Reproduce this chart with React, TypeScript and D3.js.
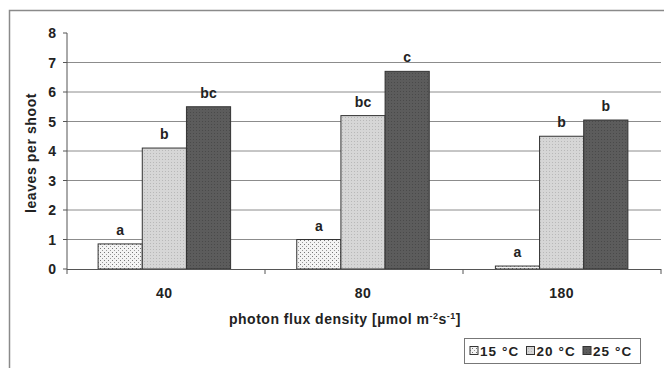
import React from "react";
import * as d3 from "d3";

const categories = ["40", "80", "180"];
const series = ["15 °C", "20 °C", "25 °C"];
const values15 = [0.85, 1.0, 0.1];
const values20 = [4.1, 5.2, 4.5];
const values25 = [5.5, 6.7, 5.05];
const letters15 = ["a", "a", "a"];
const letters20 = ["b", "bc", "b"];
const letters25 = ["bc", "c", "b"];
const yTicks = [0, 1, 2, 3, 4, 5, 6, 7, 8];

const W = 664, H = 368;
const FONT = "'Liberation Sans', Arial, sans-serif";

export default function App() {
  const left = 67, right = 661, top = 33, bottom = 269;
  const y = d3.scaleLinear().domain([0, 8]).range([bottom, top]);
  const x = d3.scaleBand<string>().domain(categories).range([65, right]).paddingInner(0.333).paddingOuter(0.1667);
  const xAxis = d3.scaleBand<string>().domain(categories).range([left, right]);
  const xs = d3.scaleBand<string>().domain(series).range([0, x.bandwidth()]);
  const vals = [values15, values20, values25];
  const lets = [letters15, letters20, letters25];
  const fills = ["url(#p15)", "url(#p20)", "url(#p25)"];

  return (
    <svg width={W} height={H} style={{ position: "absolute", left: 0, top: 0, background: "#fff" }}>
      <defs>
        <pattern id="p15" width="4" height="4" patternUnits="userSpaceOnUse">
          <rect width="4" height="4" fill="#f4f4f4" />
          <rect x="0" y="0" width="1" height="1" fill="#777" />
          <rect x="2" y="2" width="1" height="1" fill="#999" />
        </pattern>
        <pattern id="p20" width="3" height="3" patternUnits="userSpaceOnUse">
          <rect width="3" height="3" fill="#d6d6d6" />
          <rect x="0" y="0" width="1" height="1" fill="#b8b8b8" />
        </pattern>
        <pattern id="p25" width="3" height="3" patternUnits="userSpaceOnUse">
          <rect width="3" height="3" fill="#5c5c5c" />
          <rect x="1" y="1" width="1" height="1" fill="#4a4a4a" />
        </pattern>
      </defs>
      {/* outer frame */}
      <rect x={9.5} y={10.5} width={660} height={370} fill="none" stroke="#8a8a8a" strokeWidth={1.5} />

      {/* gridlines */}
      {yTicks.filter(t => t > 0 && t < 8).map(t => (
        <line key={t} x1={left} x2={right} y1={y(t)} y2={y(t)} stroke="#8c8c8c" strokeWidth={1} />
      ))}
      {/* y axis */}
      <line x1={left} x2={left} y1={top} y2={bottom} stroke="#555" strokeWidth={1} />
      {yTicks.map(t => (
        <g key={t}>
          <line x1={left - 4} x2={left} y1={y(t)} y2={y(t)} stroke="#555" />
          <text x={56} y={y(t) + 5} textAnchor="end" fontFamily={FONT} fontWeight="bold" fontSize={14} fill="#222">{t}</text>
        </g>
      ))}
      <text transform={`translate(36,${153}) rotate(-90)`} textAnchor="middle" fontFamily={FONT} fontWeight="bold" fontSize={14} letterSpacing={0.6} fill="#222">leaves per shoot</text>

      {/* bars */}
      {categories.map((c, ci) => (
        <g key={c}>
          {series.map((s, si) => {
            const v = vals[si][ci];
            const bx = (x(c) as number) + (xs(s) as number);
            const bw = xs.bandwidth();
            return (
              <g key={s}>
                <rect x={bx} y={y(v)} width={bw} height={y(0) - y(v)} fill={fills[si]} stroke="#333" strokeWidth={1} />
                <text x={bx + bw / 2} y={y(v) - 9} textAnchor="middle" fontFamily={FONT} fontWeight="bold" fontSize={14} fill="#222">{lets[si][ci]}</text>
              </g>
            );
          })}
        </g>
      ))}

      {/* x axis */}
      <line x1={left} x2={right} y1={bottom + 0.5} y2={bottom + 0.5} stroke="#555" />
      {[...categories.map(c => xAxis(c) as number), right].map((t, i) => (
        <line key={i} x1={t} x2={t} y1={bottom} y2={bottom + 5} stroke="#555" />
      ))}
      {categories.map(c => (
        <text key={c} x={(x(c) as number) + x.bandwidth() / 2} y={298} textAnchor="middle" fontFamily={FONT} fontWeight="bold" fontSize={14} letterSpacing={0.5} fill="#222">{c}</text>
      ))}
      <text x={345} y={324} textAnchor="middle" fontFamily={FONT} fontWeight="bold" fontSize={14} letterSpacing={0.5} fill="#222">
        photon flux density [µmol m<tspan dy={-5} fontSize={9}>-2</tspan><tspan dy={5}>s</tspan><tspan dy={-5} fontSize={9}>-1</tspan><tspan dy={5}>]</tspan>
      </text>

      {/* legend */}
      <rect x={464.5} y={338.5} width={176} height={25} fill="#fff" stroke="#777" strokeWidth={1} />
      {series.map((s, i) => {
        const lx = 470 + i * 56.5;
        return (
          <g key={s}>
            <rect x={lx} y={346.5} width={8} height={8} fill={fills[i]} stroke="#333" strokeWidth={1} />
            <text x={lx + 10} y={355.5} fontFamily={FONT} fontWeight="bold" fontSize={13.5} letterSpacing={1.1} fill="#222">{s}</text>
          </g>
        );
      })}
    </svg>
  );
}
